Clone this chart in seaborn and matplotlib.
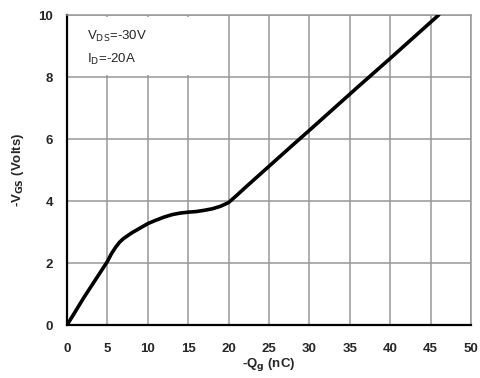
import matplotlib
matplotlib.use("Agg")
import matplotlib.pyplot as plt
import seaborn as sns
import pandas as pd
from matplotlib.patches import Rectangle

qg = [0, 1, 2, 3, 4, 5, 5.5, 6, 6.5, 7, 8, 9, 10, 11, 12, 13, 14, 15, 16, 17, 18, 19, 20,
      21, 22, 25, 28, 30, 33, 36, 40, 43, 46]
vgs = [0.0, 0.42, 0.85, 1.25, 1.65, 2.05, 2.3, 2.5, 2.67, 2.79, 2.97, 3.12, 3.27, 3.38, 3.48,
       3.56, 3.61, 3.64, 3.66, 3.70, 3.75, 3.83, 3.95,
       4.18, 4.42, 5.12, 5.82, 6.28, 6.98, 7.68, 8.6, 9.3, 10.0]
x_ticks = [0, 5, 10, 15, 20, 25, 30, 35, 40, 45, 50]
y_ticks = [0, 2, 4, 6, 8, 10]

df = pd.DataFrame({"qg": qg, "vgs": vgs})

sns.set_style("white")
plt.rcParams['font.family'] = ['Liberation Sans', 'DejaVu Sans']

fig = plt.figure(figsize=(4.8, 3.78), dpi=100)
ax = fig.add_axes([67/480, 1-325/378, 404/480, 310/378])

sns.lineplot(data=df, x="qg", y="vgs", ax=ax, color="black", linewidth=2.6, zorder=5)

ax.set_xlim(0, 50)
ax.set_ylim(0, 10)
ax.set_xticks(x_ticks)
ax.set_yticks(y_ticks)
ax.grid(True, color="#999999", linewidth=1.1, zorder=0)
ax.set_axisbelow(True)

ax.add_patch(Rectangle((0.15, 8.06), 19.6, 1.88, facecolor="white", edgecolor="none", zorder=2))

for s in ["top", "right"]:
    ax.spines[s].set_color("#999999")
    ax.spines[s].set_linewidth(1.1)
for s in ["left", "bottom"]:
    ax.spines[s].set_color("black")
    ax.spines[s].set_linewidth(1.6)

ax.tick_params(axis="x", length=0, labelsize=9.5, pad=13)
ax.tick_params(axis="y", length=0, labelsize=9.5, pad=10)
for lab in ax.get_xticklabels() + ax.get_yticklabels():
    lab.set_fontweight("bold")

ax.set_xlabel(r"-Q$_\mathbf{g}$ (nC)", fontsize=9.5, fontweight="bold", labelpad=1)
ax.set_ylabel(r"-V$_\mathbf{GS}$ (Volts)", fontsize=9.5, fontweight="bold", labelpad=9)

ax.text(2.5, 9.3, r"V$_\mathrm{DS}$=-30V", fontsize=9.5, zorder=6, va="center")
ax.text(2.5, 8.55, r"I$_\mathrm{D}$=-20A", fontsize=9.5, zorder=6, va="center")

fig.savefig("out.png", dpi=100)
